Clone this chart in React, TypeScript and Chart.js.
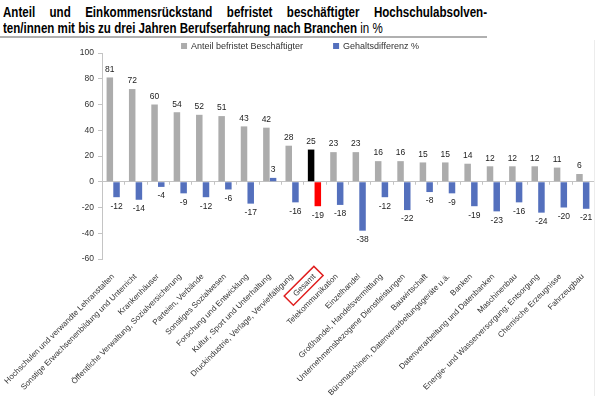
import React, { useEffect, useRef } from "react";
import { Chart, registerables } from "chart.js";

Chart.register(...registerables);

const categories: string[] = [
  "Hochschulen und verwandte Lehranstalten",
  "Sonstige Erwachsenenbildung und Unterricht",
  "Krankenhäuser",
  "Öffentliche Verwaltung, Sozialversicherung",
  "Parteien, Verbände",
  "Sonstiges Sozialwesen",
  "Forschung und Entwicklung",
  "Kultur, Sport und Unterhaltung",
  "Druckindustrie, Verlage, Vervielfältigung",
  "Gesamt",
  "Telekommunikation",
  "Einzelhandel",
  "Großhandel, Handelsvermittlung",
  "Unternehmensbezogene Dienstleistungen",
  "Bauwirtschaft",
  "Büromaschinen, Datenverarbeitungsgeräte u.ä.",
  "Banken",
  "Datenverarbeitung und Datenbanken",
  "Maschinenbau",
  "Energie- und Wasserversorgung; Entsorgung",
  "Chemische Erzeugnisse",
  "Fahrzeugbau",
];

const anteilBefristet: number[] = [81, 72, 60, 54, 52, 51, 43, 42, 28, 25, 23, 23, 16, 16, 15, 15, 14, 12, 12, 12, 11, 6];
const gehaltsdifferenz: number[] = [-12, -14, -4, -9, -12, -6, -17, 3, -16, -19, -18, -38, -12, -22, -8, -9, -19, -23, -16, -24, -20, -21];

const seriesNames: string[] = ["Anteil befristet Beschäftigter", "Gehaltsdifferenz %"];
const highlightCategory = "Gesamt";

const yMin = -60;
const yMax = 100;
const yStep = 20;

const GRAY = "#acacac";
const BLUE = "#5470bd";
const HL_GRAY = "#000000";
const HL_BLUE = "#ff0000";
const FONT = '"Liberation Sans", Arial, sans-serif';
const XLABEL_SIZE = 8;

const CANVAS_TOP = 40;

const legendPlugin = {
  id: "customLegend",
  afterDraw(chart: any) {
    const ctx = chart.ctx;
    const ds = chart.data.datasets;
    ctx.save();
    ctx.font = `9px ${FONT}`;
    ctx.textBaseline = "middle";
    const box = 6;
    const gap = 30;
    const widths = ds.map((d: any) => box + 4 + ctx.measureText(d.label).width);
    const total = widths.reduce((a: number, b: number) => a + b, 0) + gap * (ds.length - 1);
    let x = chart.width / 2 - total / 2;
    const y = 46 - CANVAS_TOP;
    ds.forEach((d: any, i: number) => {
      ctx.fillStyle = d.legendColor;
      ctx.fillRect(x, y - box / 2, box, box);
      ctx.fillStyle = "#333";
      ctx.textAlign = "left";
      ctx.fillText(d.label, x + box + 4, y + 0.5);
      x += widths[i] + gap;
    });
    ctx.restore();
  },
};

const valueLabelPlugin = {
  id: "valueLabels",
  afterDatasetsDraw(chart: any) {
    const ctx = chart.ctx;
    ctx.save();
    ctx.font = `8.5px ${FONT}`;
    ctx.fillStyle = "#222";
    ctx.textAlign = "center";
    ctx.textBaseline = "middle";
    chart.data.datasets.forEach((d: any, di: number) => {
      const meta = chart.getDatasetMeta(di);
      meta.data.forEach((el: any, i: number) => {
        const v = d.data[i];
        const y = v >= 0 ? el.y - 8 : el.y + 9;
        ctx.fillText(String(v), el.x, y);
      });
    });
    const xs = chart.scales.x;
    const ys = chart.scales.y;
    const y0 = ys.getPixelForValue(0);
    ctx.strokeStyle = "#c4c4c4";
    ctx.lineWidth = 1;
    const n = chart.data.labels.length;
    const w = (xs.right - xs.left) / n;
    for (let i = 1; i < n; i++) {
      const x = Math.round(xs.left + i * w) + 0.5;
      ctx.beginPath();
      ctx.moveTo(x, y0);
      ctx.lineTo(x, y0 + 3);
      ctx.stroke();
    }
    ctx.restore();
  },
  afterDraw(chart: any) {
    const xs = chart.scales.x;
    const idx = chart.data.labels.indexOf(highlightCategory);
    if (idx < 0) return;
    const items = xs.getLabelItems(chart.chartArea);
    const item = items && items[idx];
    if (!item) return;
    const o = item.options;
    const ctx = chart.ctx;
    ctx.save();
    ctx.font = `${XLABEL_SIZE}px ${FONT}`;
    ctx.textAlign = o.textAlign;
    ctx.textBaseline = o.textBaseline;
    const m = ctx.measureText(highlightCategory);
    const tw = m.width;
    const asc = m.actualBoundingBoxAscent;
    const desc = m.actualBoundingBoxDescent;
    ctx.translate(o.translation[0], o.translation[1]);
    ctx.rotate(o.rotation);
    const ty = item.textOffset || 0;
    const top = ty - asc;
    const bottom = ty + desc;
    const left = o.textAlign === "right" ? -tw : o.textAlign === "center" ? -tw / 2 : 0;
    ctx.strokeStyle = "#e02020";
    ctx.lineWidth = 1.5;
    ctx.strokeRect(left - 8, top - 4, tw + 14, bottom - top + 8);
    ctx.restore();
  },
};

export default function App() {
  const ref = useRef<HTMLCanvasElement | null>(null);

  useEffect(() => {
    if (!ref.current) return;
    const chart = new Chart(ref.current, {
      type: "bar",
      data: {
        labels: categories,
        datasets: [
          {
            label: seriesNames[0],
            data: anteilBefristet,
            backgroundColor: categories.map((c) => (c === highlightCategory ? HL_GRAY : GRAY)),
            legendColor: GRAY,
            categoryPercentage: 0.6,
            barPercentage: 0.97,
          } as any,
          {
            label: seriesNames[1],
            data: gehaltsdifferenz,
            backgroundColor: categories.map((c) => (c === highlightCategory ? HL_BLUE : BLUE)),
            legendColor: BLUE,
            categoryPercentage: 0.6,
            barPercentage: 0.97,
          } as any,
        ],
      },
      options: {
        animation: false,
        responsive: false,
        maintainAspectRatio: false,
        layout: { padding: { top: 13, right: 6, left: 0, bottom: 0 } },
        font: { family: FONT },
        plugins: {
          legend: { display: false },
          tooltip: { enabled: false },
          title: { display: false },
        },
        scales: {
          x: {
            grid: { display: false },
            border: { display: false },
            ticks: {
              autoSkip: false,
              minRotation: 45,
              maxRotation: 45,
              padding: 5,
              color: "#333",
              font: { size: XLABEL_SIZE, family: FONT },
            },
            afterFit(scale: any) {
              scale.height = 137;
              scale.paddingLeft = 0;
              scale.paddingRight = 0;
            },
          },
          y: {
            min: yMin,
            max: yMax,
            ticks: {
              stepSize: yStep,
              padding: 4,
              color: "#333",
              font: { size: 8.5, family: FONT },
            },
            grid: {
              color: (c: any) => (c.tick && c.tick.value === 0 ? "#c4c4c4" : "rgba(0,0,0,0)"),
              tickColor: "#c4c4c4",
              tickLength: 4,
              drawTicks: true,
            },
            border: { display: true, color: "#c4c4c4" },
            afterFit(scale: any) {
              scale.width = 102;
            },
          },
        },
      },
      plugins: [legendPlugin, valueLabelPlugin],
    } as any);
    return () => chart.destroy();
  }, []);

  const titleScale = 0.826;

  return (
    <div style={{ position: "absolute", left: 0, top: 0, width: 600, height: 396, background: "#fff", overflow: "hidden" }}>
      <div
        style={{
          position: "absolute",
          left: 3,
          top: 4,
          width: 484 / titleScale,
          transform: `scaleX(${titleScale})`,
          transformOrigin: "0 0",
          fontFamily: FONT,
          fontWeight: "bold",
          fontSize: 14,
          lineHeight: "16px",
          color: "#000",
        }}
      >
        <div style={{ textAlign: "justify", textAlignLast: "justify", whiteSpace: "nowrap" as any }}>
          Anteil und Einkommensrückstand befristet beschäftigter Hochschulabsolven-
        </div>
        <div style={{ whiteSpace: "nowrap" }}>
          ten/innen mit bis zu drei Jahren Berufserfahrung nach Branchen <span style={{ fontWeight: "normal" }}>in %</span>
        </div>
      </div>
      <div style={{ position: "absolute", left: 0, top: 36, width: 487, height: 2, background: "#b0b0b0" }} />
      <div style={{ position: "absolute", left: 594, top: 40, width: 1, height: 356, background: "#ececec" }} />
      <canvas ref={ref} width={600} height={396 - CANVAS_TOP} style={{ position: "absolute", left: 0, top: CANVAS_TOP, width: 600, height: 396 - CANVAS_TOP }} />
    </div>
  );
}
